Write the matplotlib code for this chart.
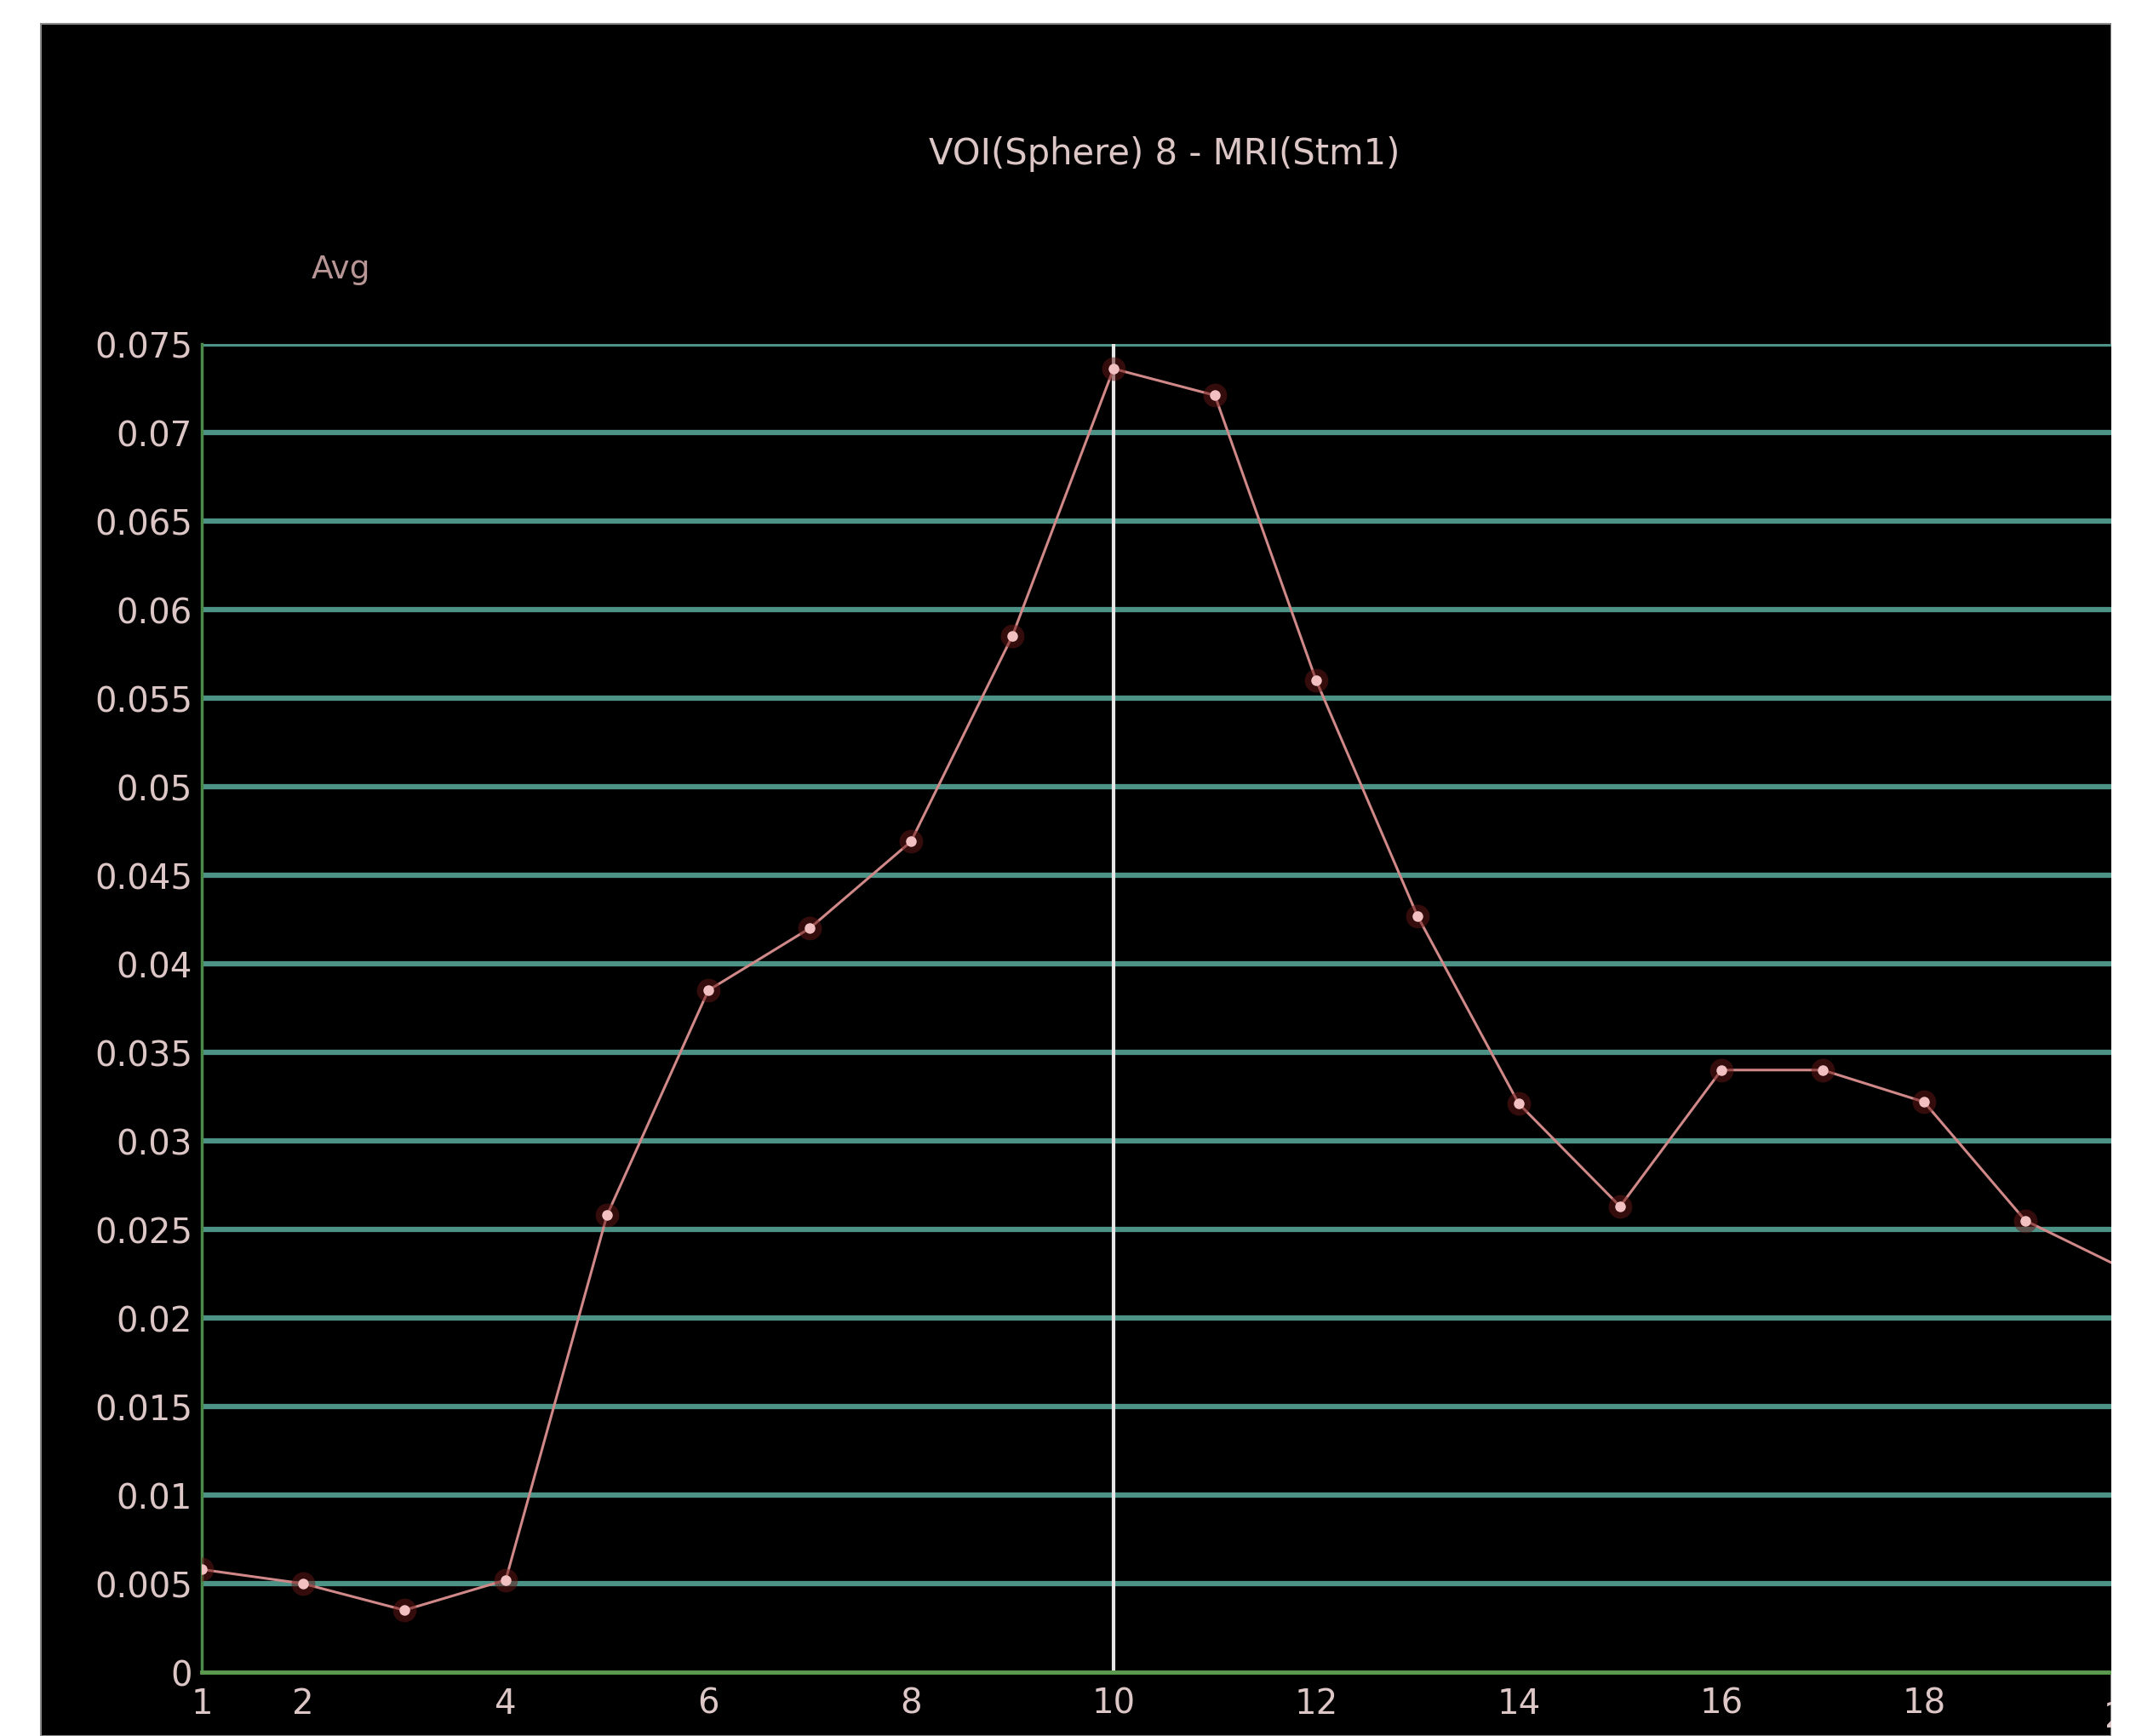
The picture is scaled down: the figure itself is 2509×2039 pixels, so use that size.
import matplotlib.pyplot as plt
from matplotlib.patches import Rectangle

# Average signal in the VOI per scan
frames = [1, 2, 3, 4, 5, 6, 7, 8, 9, 10, 11, 12, 13, 14, 15, 16, 17, 18, 19, 20]
avg = [0.0058, 0.0050, 0.0035, 0.0052, 0.0258, 0.0385, 0.0420, 0.0469, 0.0585, 0.0736,
       0.0721, 0.0560, 0.0427, 0.0321, 0.0263, 0.0340, 0.0340, 0.0322, 0.0255, 0.0227]
yticks = [0, 0.005, 0.01, 0.015, 0.02, 0.025, 0.03, 0.035, 0.04, 0.045, 0.05, 0.055,
          0.06, 0.065, 0.07, 0.075]
ytick_labels = ["0", "0.005", "0.01", "0.015", "0.02", "0.025", "0.03", "0.035", "0.04",
                "0.045", "0.05", "0.055", "0.06", "0.065", "0.07", "0.075"]
xticks = [1, 2, 4, 6, 8, 10, 12, 14, 16, 18]
cursor_frame = 10
title = "VOI(Sphere) 8 - MRI(Stm1)"

W, H = 2509, 2040
fig = plt.figure(figsize=(W / 100, H / 100), dpi=100, facecolor="white")

# black display panel
panel = Rectangle((48 / W, 0), (2480 - 48) / W, (H - 29) / H, transform=fig.transFigure,
                  facecolor="black", edgecolor="#888888", linewidth=1.5, zorder=-5)
fig.patches.append(panel)

left, right, top, bottom = 237, 2480, 405, 1965
ax = fig.add_axes([left / W, 1 - bottom / H, (right - left) / W, (bottom - top) / H])
ax.set_facecolor("black")
ax.set_xlim(1, 1 + (right - left) / 119.0)
ax.set_ylim(0, 0.075)

txt_col = "#dcc6c6"
for y in yticks[1:]:
    ax.axhline(y, color="#4c9286", lw=4.5, zorder=1)
ax.axvline(cursor_frame, color="#e6e6e6", lw=3, zorder=2)

ax.plot(frames, avg, color="#d08888", lw=2.2, zorder=3, clip_on=True)
ax.plot(frames, avg, "o", color="#6a1818", ms=20, alpha=0.5, mec="none", zorder=3, clip_on=True)
ax.plot(frames, avg, "o", color="#f2c0c0", ms=9, mec="none", zorder=4, clip_on=True)

for s in ["top", "right"]:
    ax.spines[s].set_visible(False)
ax.spines["left"].set_color("#4b8a4b")
ax.spines["left"].set_linewidth(2.5)
ax.spines["bottom"].set_color("#5c9a50")
ax.spines["bottom"].set_linewidth(3.5)

ax.set_yticks(yticks)
ax.set_yticklabels(ytick_labels)
ax.set_xticks(xticks)
ax.set_xticklabels([str(x) for x in xticks])
ax.tick_params(axis="both", colors=txt_col, labelsize=29, length=0)
ax.tick_params(axis="y", pad=8)
ax.tick_params(axis="x", pad=12)

# the next frame label sits at the clipped right edge
ax.text(20, -0.0016, "20", color=txt_col, fontsize=29, ha="center", va="top", clip_on=False)

fig.text(1368 / W, 1 - 181 / H, title, color=txt_col, fontsize=30, ha="center", va="center")
fig.text(400 / W, 1 - 317 / H, "Avg", color="#b89696", fontsize=27, ha="center", va="center")

# white margin on the right
fig.patches.append(Rectangle((2480 / W, 0), 29 / W, 1, transform=fig.transFigure,
                             facecolor="white", edgecolor="none", zorder=10))

fig.savefig("out.png", dpi=100, facecolor="white")
